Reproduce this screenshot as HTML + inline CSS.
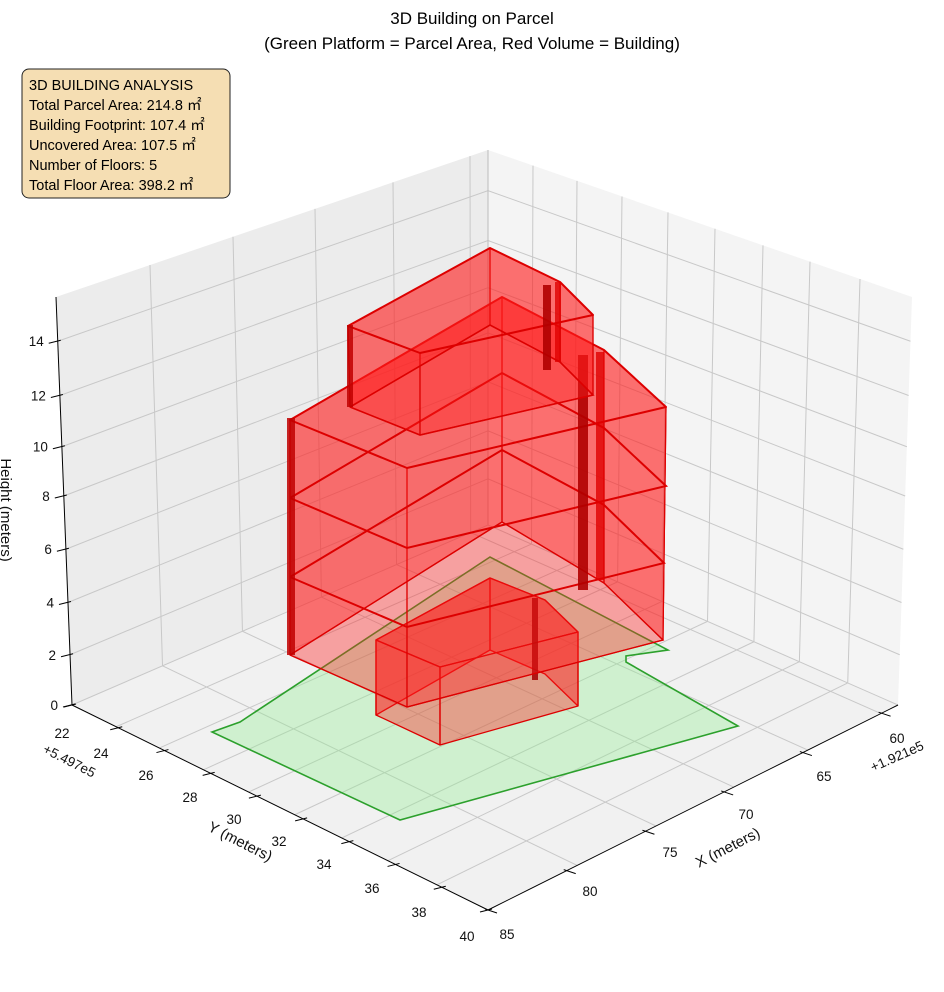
<!DOCTYPE html>
<html><head><meta charset="utf-8"><style>
body{margin:0;background:#fff;}
svg{display:block;font-family:"Liberation Sans","DejaVu Sans",sans-serif;}
</style></head><body>
<svg id="s" width="944" height="992" viewBox="0 0 944 992" xmlns="http://www.w3.org/2000/svg">
<rect width="944" height="992" fill="#fff"/>
<g id="panes"></g>
<g id="grid" stroke="#c8c8c8" stroke-width="1" fill="none"></g>
<g id="axes" stroke="#000" stroke-width="1" fill="none"></g>
<g id="lbl" font-size="13.5" fill="#111"></g>
<g id="bld"></g>
<text x="472" y="24" font-size="17" text-anchor="middle">3D Building on Parcel</text>
<text x="472" y="49" font-size="17" text-anchor="middle">(Green Platform = Parcel Area, Red Volume = Building)</text>
<rect x="22" y="69" width="208" height="129" rx="7" fill="#f5deb3" stroke="#222" stroke-width="1"/>
<g font-size="14.5" fill="#000">
<text x="29" y="90">3D BUILDING ANALYSIS</text>
<text x="29" y="110">Total Parcel Area: 214.8 ㎡</text>
<text x="29" y="130">Building Footprint: 107.4 ㎡</text>
<text x="29" y="150">Uncovered Area: 107.5 ㎡</text>
<text x="29" y="170">Number of Floors: 5</text>
<text x="29" y="190">Total Floor Area: 398.2 ㎡</text>
</g>
</svg>
<script>
(function(){
const NS="http://www.w3.org/2000/svg";
function el(p,t,a,txt){const e=document.createElementNS(NS,t);for(const k in a)e.setAttribute(k,a[k]);if(txt!=null)e.textContent=txt;document.getElementById(p).appendChild(e);return e;}
const P=(a)=>a.map(p=>p.join(",")).join(" ");
const L0=[72,705],B0=[488,525],R0=[898,705],F0=[488,910];
const Lt=[56,297],Bt=[488,150],Rt=[912,297];
function lerp(a,b,t){return [a[0]+(b[0]-a[0])*t,a[1]+(b[1]-a[1])*t];}
el("panes","polygon",{points:P([Lt,Bt,B0,L0]),fill:"#ececec"});
el("panes","polygon",{points:P([Bt,Rt,R0,B0]),fill:"#f4f4f4"});
el("panes","polygon",{points:P([L0,B0,R0,F0]),fill:"#f1f1f1"});
const lx=[150,233,315,393,470];
lx.forEach(x=>{const t=(x-56)/432;const a=lerp(Lt,Bt,t),b=lerp(L0,B0,t);
 el("grid","line",{x1:a[0],y1:a[1],x2:b[0],y2:b[1]});
 const u=1-t; const c=lerp(R0,F0,u);
 el("grid","line",{x1:b[0],y1:b[1],x2:c[0],y2:c[1]});
});
const rx=[533,577,622,668,715,763,810,860];
rx.forEach(x=>{const t=(x-488)/424;const a=lerp(Bt,Rt,t),b=lerp(B0,R0,t);
 el("grid","line",{x1:a[0],y1:a[1],x2:b[0],y2:b[1]});
 const c=lerp(L0,F0,t);
 el("grid","line",{x1:b[0],y1:b[1],x2:c[0],y2:c[1]});
});
const zy=[703,653,601,548,495,446,395,341];
zy.forEach((y,i)=>{const f=(703-y)/406;
 const l=[72-16*f,705-408*f],b=[488,525-375*f],r=[898+14*f,705-408*f];
 el("grid","polyline",{points:P([l,b,r])});
 el("axes","line",{x1:l[0]-9,y1:l[1]+2,x2:l[0]+3,y2:l[1]-1});
 el("lbl","text",{x:l[0]-14,y:l[1]+5,"text-anchor":"end"},String(i*2));
});
el("grid","line",{x1:Bt[0],y1:Bt[1],x2:B0[0],y2:B0[1],stroke:"#bbb"});
el("axes","line",{x1:Lt[0],y1:Lt[1],x2:L0[0],y2:L0[1]});
el("axes","line",{x1:L0[0],y1:L0[1],x2:F0[0],y2:F0[1]});
el("axes","line",{x1:F0[0],y1:F0[1],x2:R0[0],y2:R0[1]});
const yl=[[62,733],[101,753],[146,775],[190,797],[234,819],[279,841],[324,864],[372,888],[419,912],[467,936]];
["22","24","26","28","30","32","34","36","38","40"].forEach((s,i)=>{
 const t=i/9;const p=lerp(L0,F0,t);
 el("axes","line",{x1:p[0]-8,y1:p[1]+2,x2:p[0]+4,y2:p[1]-1});
 el("lbl","text",{x:yl[i][0],y:yl[i][1]+5,"text-anchor":"middle"},s);
});
const xl=[[897,738],[824,776],[746,814],[670,852],[590,891],[507,934]];
["60","65","70","75","80","85"].forEach((s,i)=>{
 const t=0.04+i*0.192;const p=lerp(R0,F0,Math.min(t,1));
 el("axes","line",{x1:p[0]-3,y1:p[1]-1,x2:p[0]+9,y2:p[1]+3});
 el("lbl","text",{x:xl[i][0],y:xl[i][1]+5,"text-anchor":"middle"},s);
});
el("lbl","text",{x:42,y:752,transform:"rotate(27 42 752)"},"+5.497e5");
el("lbl","text",{x:873,y:772,transform:"rotate(-24 873 772)"},"+1.921e5");
el("lbl","text",{x:238,y:846,"font-size":"15","text-anchor":"middle",transform:"rotate(27 238 846)"},"Y (meters)");
el("lbl","text",{x:730,y:852,"font-size":"15","text-anchor":"middle",transform:"rotate(-27 730 852)"},"X (meters)");
el("lbl","text",{x:1,y:510,"font-size":"15","text-anchor":"middle",transform:"rotate(90 1 510)"},"Height (meters)");
el("bld","polygon",{points:"212,732 240,722 490,557 668,650 626,656 626,662 738,726 400,820",fill:"rgba(144,238,144,0.35)",stroke:"#2ca02c","stroke-width":"1.6"});
const FILL="rgba(255,30,30,0.38)",ST="#dd0000";
function face(pts,sw){el("bld","polygon",{points:P(pts),fill:FILL,stroke:ST,"stroke-width":sw||1.8,"stroke-linejoin":"round"});}
function line(pts,sw){el("bld","polyline",{points:P(pts),fill:"none",stroke:ST,"stroke-width":sw||2});}
face([[490,578],[545,600],[578,632],[578,706],[545,674],[490,650]],1.3);
face([[376,640],[490,578],[490,650],[376,715]],1.3);
face([[376,640],[490,578],[545,600],[578,632],[440,667]],1.3);
face([[376,640],[440,667],[440,745],[376,715]],1.3);
face([[440,667],[578,632],[578,706],[440,745]],1.3);
el("bld","rect",{x:532,y:598,width:6,height:82,fill:"#a30000",opacity:0.85});
const ring=[[ [290,420],[407,468],[666,407],[604,350],[502,297] ],
            [ [290,498],[407,548],[666,486],[604,428],[502,373] ],
            [ [290,577],[407,627],[664,563],[604,505],[502,450] ],
            [ [290,655],[407,707],[663,640],[604,583],[502,522] ]];
const tp=ring[0],bt=ring[3];
for(let i=0;i<5;i++){const j=(i+1)%5;face([tp[i],tp[j],bt[j],bt[i]],1.2);}
face(tp,2);
for(let k=1;k<3;k++)line(ring[k].concat([ring[k][0]]),2);
line(bt.concat([bt[0]]),1.4);
el("bld","rect",{x:287,y:418,width:8,height:237,fill:"#c00000",opacity:0.85});
el("bld","rect",{x:578,y:355,width:10,height:235,fill:"#b00000",opacity:0.9});
el("bld","rect",{x:596,y:352,width:8,height:228,fill:"#e00000",opacity:0.8});
const t0=[[348,326],[420,353],[593,315],[560,282],[490,248]],t1=[[350,407],[420,435],[593,395],[560,362],[490,325]];
for(let i=0;i<5;i++){const j=(i+1)%5;face([t0[i],t0[j],t1[j],t1[i]],1.2);}
face(t0,2);
line(t1.concat([t1[0]]),1.6);
el("bld","rect",{x:347,y:325,width:6,height:82,fill:"#c00000",opacity:0.85});
el("bld","rect",{x:543,y:285,width:8,height:85,fill:"#b00000",opacity:0.9});
el("bld","rect",{x:555,y:282,width:6,height:80,fill:"#e00000",opacity:0.8});
})();
</script>
</body></html>
